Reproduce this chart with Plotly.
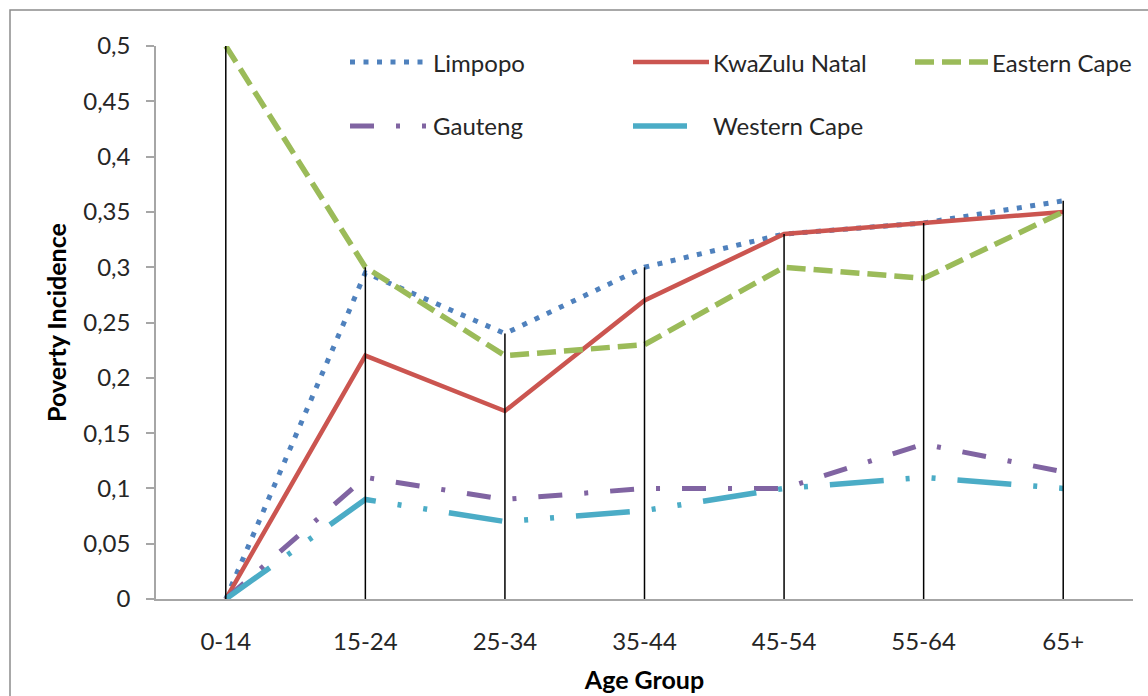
import plotly.graph_objects as go

# ---------------- data ----------------
categories = ["0-14", "15-24", "25-34", "35-44", "45-54", "55-64", "65+"]
limpopo = [0.0, 0.295, 0.24, 0.30, 0.33, 0.34, 0.36]
kwazulu_natal = [0.0, 0.22, 0.17, 0.27, 0.33, 0.34, 0.35]
eastern_cape = [0.5, 0.30, 0.22, 0.23, 0.30, 0.29, 0.35]
gauteng = [0.0, 0.11, 0.09, 0.10, 0.10, 0.14, 0.115]
western_cape = [0.0, 0.09, 0.07, 0.08, 0.10, 0.11, 0.10]

series_names = ["Limpopo", "KwaZulu Natal", "Eastern Cape", "Gauteng", "Western Cape"]
series_values = [limpopo, kwazulu_natal, eastern_cape, gauteng, western_cape]
y_ticks = [0, 0.05, 0.1, 0.15, 0.2, 0.25, 0.3, 0.35, 0.4, 0.45, 0.5]

# ---------------- styles ----------------
styles = {
    "Limpopo": dict(color="#4F81BD", width=5, dash="5px,8.5px"),
    "KwaZulu Natal": dict(color="#CB5550", width=4.5, dash="solid"),
    "Eastern Cape": dict(color="#9BBB59", width=5.5, dash="19px,8px"),
    "Gauteng": dict(color="#8064A2", width=5, dash="24px,22px,4px,22px"),
    "Western Cape": dict(color="#4BACC6", width=5.5, dash="54px,22px,4px,22px,4px,22px"),
}

W, H = 1148, 696
ML, MR, MT, MB = 156, 15, 46, 97
PW, PH = W - ML - MR, H - MT - MB
FONT = "Lato"
FS = 24
FS_TITLE = 25


def px_x(p):
    return (p - ML) / PW


def px_y(p):
    return (H - MB - p) / PH


fig = go.Figure()

for name, vals in zip(series_names, series_values):
    st = styles[name]
    fig.add_trace(go.Scatter(
        x=categories, y=vals, mode="lines", name=name,
        line=dict(color=st["color"], width=st["width"], dash=st["dash"]),
        cliponaxis=False, showlegend=False,
    ))

# drop lines: from axis to the highest value of each category
drop_x, drop_y = [], []
for i, c in enumerate(categories):
    top = max(v[i] for v in series_values)
    drop_x += [c, c, None]
    drop_y += [0, top, None]
fig.add_trace(go.Scatter(
    x=drop_x, y=drop_y, mode="lines", line=dict(color="#000000", width=1.5),
    showlegend=False, hoverinfo="skip", cliponaxis=False,
))

# ---------------- legend (manual, Excel-like) ----------------
shapes = []
annotations = []
legend_pos = [  # swatch start px, swatch end px, text start px, row y px
    (350, 426, 431, 62),
    (633, 709, 711, 62),
    (915, 988, 990, 62),
    (350, 426, 431, 126),
    (633, 709, 711, 126),
]
for name, (x0, x1, xt, yy) in zip(series_names, legend_pos):
    st = styles[name]
    shapes.append(dict(
        type="line", xref="paper", yref="paper",
        x0=px_x(x0), x1=px_x(x1), y0=px_y(yy), y1=px_y(yy),
        line=dict(color=st["color"], width=st["width"], dash=st["dash"]),
    ))
    annotations.append(dict(
        text=name, xref="paper", yref="paper", x=px_x(xt), y=px_y(yy),
        xanchor="left", yanchor="middle", showarrow=False,
        font=dict(family=FONT, size=FS, color="#262626"),
    ))

# chart frame
shapes.append(dict(
    type="rect", xref="paper", yref="paper", layer="below",
    x0=px_x(10), x1=px_x(1160), y0=px_y(710), y1=px_y(10),
    line=dict(color="#8C8C8C", width=1.5), fillcolor="rgba(0,0,0,0)",
))

fig.update_layout(
    width=W, height=H,
    margin=dict(l=ML, r=MR, t=MT, b=MB, autoexpand=False),
    paper_bgcolor="white", plot_bgcolor="white",
    separators=",.",
    showlegend=False,
    font=dict(family=FONT, size=FS, color="#262626"),
    shapes=shapes, annotations=annotations,
    xaxis=dict(
        type="category", range=[-0.5, len(categories) - 0.5],
        automargin=False,
        showline=True, linecolor="#A6A6A6", linewidth=1.5,
        showgrid=False, zeroline=False, ticks="",
        ticklabelstandoff=20,
        tickfont=dict(family=FONT, size=FS, color="#262626"),
        title=dict(text="<b>Age Group</b>", standoff=18,
                   font=dict(family=FONT, size=FS_TITLE, color="#000000")),
    ),
    yaxis=dict(
        range=[0, 0.5], tickvals=y_ticks,
        automargin=False,
        showline=True, linecolor="#A6A6A6", linewidth=1.5,
        showgrid=False, zeroline=False,
        ticks="outside", ticklen=8, tickcolor="#A6A6A6", tickwidth=1.5,
        ticklabelstandoff=11,
        tickfont=dict(family=FONT, size=FS, color="#262626"),
        title=dict(text="<b>Poverty Incidence</b>", standoff=9,
                   font=dict(family=FONT, size=FS_TITLE, color="#000000")),
    ),
)

fig.write_html("out.html")
